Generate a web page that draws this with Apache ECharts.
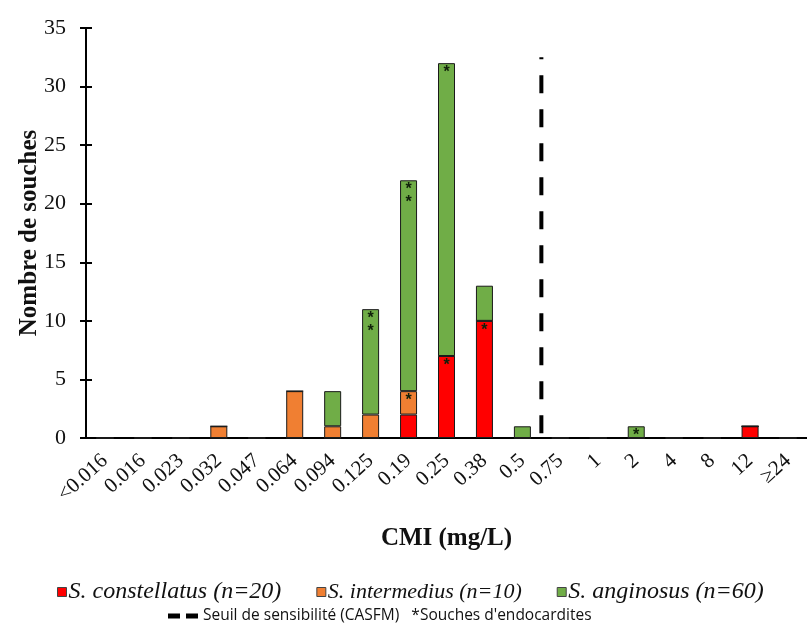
<!DOCTYPE html>
<html><head><meta charset="utf-8">
<script src="https://cdn.jsdelivr.net/npm/echarts@6/dist/echarts.min.js"></script>
<style>html,body{margin:0;padding:0;background:#fff}#c{width:807px;height:626px}</style>
</head><body><div id="c"></div>
<script>
const categories = ['<0.016','0.016','0.023','0.032','0.047','0.064','0.094','0.125','0.19','0.25','0.38','0.5','0.75','1','2','4','8','12','≥24'];
const constellatus = [0,0,0,0,0,0,0,0,2,7,10,0,0,0,0,0,0,1,0];
const intermedius  = [0,0,0,1,0,4,1,2,2,0,0,0,0,0,0,0,0,0,0];
const anginosus    = [0,0,0,0,0,0,3,9,18,25,3,1,0,0,1,0,0,0,0];
// endocarditis strains (asterisks) per segment
const constellatusEndo = [0,0,0,0,0,0,0,0,0,1,1,0,0,0,0,0,0,0,0];
const intermediusEndo  = [0,0,0,0,0,0,0,0,1,0,0,0,0,0,0,0,0,0,0];
const anginosusEndo    = [0,0,0,0,0,0,0,2,2,1,0,0,0,0,1,0,0,0,0];
const seuilCategory = '0.75';   // threshold lies just before this category
const seuilTop = 32.5;
const yTicks = [0,5,10,15,20,25,30,35];

const serif = "'Liberation Serif','DejaVu Serif',serif";
const names = ['S. constellatus (n=20)','S. intermedius (n=10)','S. anginosus (n=60)'];
const legendSizes = [24, 22, 24];
const colors = ['#FF0000','#F07F32','#70AD47'];
const values = [constellatus, intermedius, anginosus];
const endo = [constellatusEndo, intermediusEndo, anginosusEndo];
const seuilIdx = categories.indexOf(seuilCategory);

const chart = echarts.init(document.getElementById('c'), null, {renderer:'canvas'});
const barSeries = names.map((n,i)=>({
  name:n, type:'bar', stack:'s', barWidth:17,
  itemStyle:{color:colors[i], borderColor:'#1a1a1a', borderWidth:1},
  data: values[i].map((v,k)=>({value:v, endo:endo[i][k]})),
  label:{show:true, position:'insideTop', distance:3, color:'#10200a', fontSize:16, fontWeight:'bold', lineHeight:13,
    formatter:p=> p.data.endo ? Array(p.data.endo).fill('*').join('\n') : ''}
}));
const seuilName = 'Seuil de sensibilité (CASFM)';
chart.setOption({
  animation:false,
  backgroundColor:'#fff',
  grid:{left:86, top:28, width:726, height:410, containLabel:false},
  legend:[{
    data:names.map((n,i)=>({name:n, textStyle:{fontSize:legendSizes[i]}})),
    bottom:17, left:52, itemWidth:9, itemHeight:9, itemGap:35,
    icon:'rect',
    itemStyle:{borderColor:'#444', borderWidth:1},
    textStyle:{fontFamily:serif, fontStyle:'italic', fontSize:24, color:'#111', padding:[0,0,0,-3]}
  },{
    data:[{name:seuilName, icon:'path://M0,0H12V5H0Z M18,0H30V5H18Z'}], bottom:-3, left:163, itemWidth:30, itemHeight:5,
    itemStyle:{color:'#000'},
    lineStyle:{width:0, opacity:0},
    formatter: n => n + "   *Souches d'endocardites",
    textStyle:{fontFamily:"'Open Sans','Noto Sans',sans-serif", fontSize:15.5, color:'#111'}
  }],
  xAxis:[{
    type:'category', data:categories, gridIndex:0,
    axisLine:{lineStyle:{color:'#000', width:2}},
    axisTick:{show:false},
    axisLabel:{rotate:42, interval:0, fontFamily:serif, fontSize:21, color:'#111', margin:20},
    name:'CMI (mg/L)', nameLocation:'middle', nameGap:88, nameMoveOverlap:false,
    nameTextStyle:{fontFamily:serif, fontWeight:'bold', fontSize:25, color:'#111'}
  },{
    type:'value', min:0, max:categories.length, show:false, gridIndex:0
  }],
  yAxis:[{
    type:'value', min:0, max:35, interval:5,
    axisLine:{show:true, lineStyle:{color:'#000', width:2}},
    axisTick:{show:true, length:6, lineStyle:{color:'#000', width:2}},
    splitLine:{show:false},
    axisLabel:{fontFamily:serif, fontSize:22, color:'#111', margin:20},
    name:'Nombre de souches', nameLocation:'middle', nameGap:44, nameMoveOverlap:false,
    nameTextStyle:{fontFamily:serif, fontWeight:'bold', fontSize:25, color:'#111'}
  },{
    type:'value', min:0, max:35, interval:5, position:'left',
    axisLine:{show:false}, axisLabel:{show:false}, splitLine:{show:false},
    axisTick:{show:true, inside:true, length:6, lineStyle:{color:'#000', width:2}}
  }],
  series:[...barSeries, {
    name:seuilName, type:'line', xAxisIndex:1, yAxisIndex:0, symbol:'none',
    lineStyle:{type:[18,16], width:4, color:'#000'},
    itemStyle:{color:'#000'},
    data:[[seuilIdx, 0.4],[seuilIdx, seuilTop]], z:5
  }]
});
</script></body></html>
